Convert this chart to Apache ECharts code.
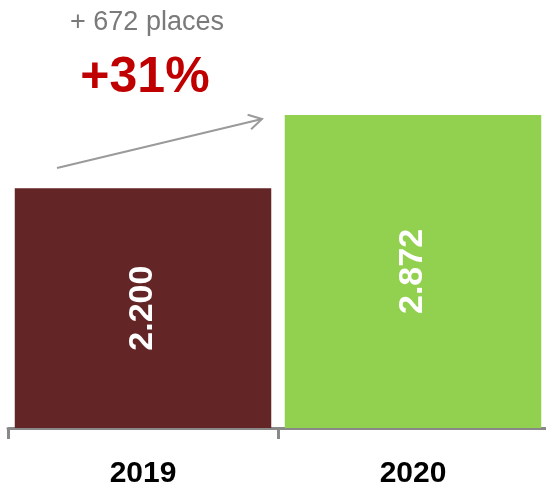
<!DOCTYPE html>
<html>
<head>
<meta charset="utf-8">
<script src="https://cdn.jsdelivr.net/npm/echarts@6/dist/echarts.min.js"></script>
<style>
  html, body { margin: 0; padding: 0; background: #fff; }
  #chart { width: 546px; height: 483px; }
</style>
</head>
<body>
<div id="chart"></div>
<script>
var years = ['2019', '2020']
var places = [2200, 2872]
var barColors = ['#632525', '#92d050']
var diffText = '+ 672 places'
var pctText = '+31%'

// 2200 -> "2.200"
function fmt(v) {
  return String(v).replace(/\B(?=(\d{3})+(?!\d))/g, '.')
}

// arrow line + open head, computed from start / end
function arrow(x1, y1, x2, y2, len) {
  var a = Math.atan2(y1 - y2, x1 - x2)
  var w = Math.PI / 6
  var style = { stroke: '#9a9a9a', lineWidth: 2, fill: null }
  return {
    type: 'group',
    children: [
      { type: 'line', shape: { x1: x1, y1: y1, x2: x2, y2: y2 }, style: style },
      {
        type: 'polyline',
        shape: {
          points: [
            [x2 + len * Math.cos(a + w), y2 + len * Math.sin(a + w)],
            [x2, y2],
            [x2 + len * Math.cos(a - w), y2 + len * Math.sin(a - w)]
          ]
        },
        style: style
      }
    ]
  }
}

var chart = echarts.init(document.getElementById('chart'))
chart.setOption({
  animation: false,
  textStyle: { fontFamily: 'Liberation Sans, Arial, sans-serif' },
  grid: { left: 8, right: -2, top: 101, bottom: 55, containLabel: false, outerBoundsMode: 'none' },
  xAxis: {
    type: 'category',
    data: years,
    axisLine: { lineStyle: { color: '#898989', width: 3 } },
    axisTick: { show: true, length: 11, lineStyle: { color: '#898989', width: 3 } },
    axisLabel: { color: '#000', fontSize: 30, fontWeight: 'bold', margin: 31 }
  },
  yAxis: {
    type: 'value',
    min: 0,
    max: 3000,
    show: false,
    splitLine: { show: false }
  },
  series: [{
    type: 'bar',
    barCategoryGap: '5%',
    data: places.map(function(v, i) {
      return { value: v, itemStyle: { color: barColors[i] } }
    }),
    label: {
      show: true,
      position: 'inside',
      rotate: 90,
      color: '#fff',
      fontSize: 34,
      fontWeight: 'bold',
      formatter: function(p) { return fmt(p.value) }
    }
  }],
  graphic: [
    {
      type: 'text',
      x: 147, y: 23,
      style: {
        text: diffText, fill: '#7a7a7a', fontSize: 27,
        fontFamily: 'Liberation Sans, Arial, sans-serif',
        textAlign: 'center', textVerticalAlign: 'middle'
      }
    },
    {
      type: 'text',
      x: 145, y: 78,
      style: {
        text: pctText, fill: '#c00000', fontSize: 50, fontWeight: 'bold',
        fontFamily: 'Liberation Sans, Arial, sans-serif',
        textAlign: 'center', textVerticalAlign: 'middle'
      }
    },
    arrow(57, 168, 262, 119, 15)
  ]
})
</script>
</body>
</html>
